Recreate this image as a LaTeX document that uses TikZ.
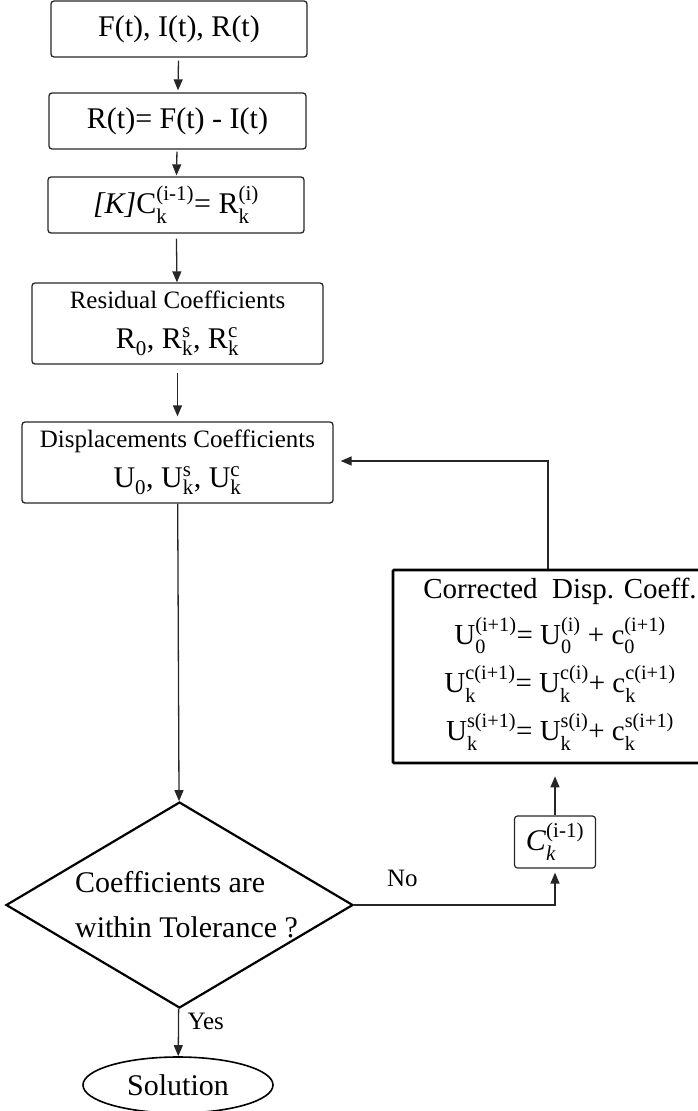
\documentclass[tikz,border=0pt]{standalone}
\usepackage{amsmath}
\usepackage{fontspec}
\setmainfont{Liberation Serif}
\usetikzlibrary{shapes,arrows.meta,calc}

% base with upright super- and subscript
\newcommand{\hsym}[3]{\ensuremath{\text{#1}^{\text{#2}}_{\text{#3}}}}

\begin{document}
\begin{tikzpicture}[x=1pt,y=-1pt,>={Triangle[length=11pt,width=9pt]}]
  \tikzstyle{block}=[draw=black!85,line width=1.3pt,rounded corners=3pt,inner sep=0pt,align=center,font=\fontsize{30}{40}\selectfont]
  \tikzstyle{decision}=[diamond,draw,line width=2.2pt,inner sep=0pt,minimum width=347,minimum height=206]
  \tikzstyle{line}=[draw=black!85,line width=1.3pt]
  \tikzstyle{small}=[font=\fontsize{25}{30}\selectfont]
  \useasboundingbox (0,0) rectangle (697,1111);

  \node[block,minimum width=256,minimum height=56] (load) at (179,29) {F(t), I(t), R(t)};
  \node[block,minimum width=257,minimum height=56] (resid) at (177.5,121) {R(t)= F(t) - I(t)};
  \node[block,minimum width=256,minimum height=56] (solve) at (176,205) {\textit{[K]}\hsym{C}{(i-1)}{k}= \hsym{R}{(i)}{k}};
  \node[block,minimum width=291,minimum height=81] (rcoef) at (177.5,323.5)
    {{\fontsize{25}{30}\selectfont Residual Coefficients}\\ \hsym{R}{}{0}, \hsym{R}{s}{k}, \hsym{R}{c}{k}};
  \node[block,minimum width=311,minimum height=81] (disp) at (177.5,462.5)
    {{\fontsize{25}{30}\selectfont Displacements Coefficients}\\ \hsym{U}{}{0}, \hsym{U}{s}{k}, \hsym{U}{c}{k}};
  \node[decision] (test) at (179.5,905) {};
  \node[align=left,inner sep=0pt,font=\fontsize{30}{45}\selectfont] (testtext) at (186.5,905) {Coefficients are\\within Tolerance ?};
  \node[ellipse,draw,line width=1.6pt,inner sep=0pt,minimum width=190,minimum height=56,font=\fontsize{30}{36}\selectfont] (sol) at (178,1085) {Solution};
  \node[block,line width=1.2pt,minimum width=81,minimum height=52] (corr) at (555,842) {\hsym{\textit{C}}{(i-1)}{\textit{k}}};
  \node[block,rounded corners=1pt,draw=black,line width=2.7pt,minimum width=334,minimum height=193,font=\fontsize{29}{43}\selectfont] (fix) at (560,666.5)
    {Corrected~~Disp. Coeff.\\[3pt]
     \hsym{U}{(i+1)}{0}= \hsym{U}{(i)}{0} + \hsym{c}{(i+1)}{0}\\[5pt]
     \hsym{U}{c(i+1)}{k}= \hsym{U}{c(i)}{k}+ \hsym{c}{c(i+1)}{k}\\[5pt]
     \hsym{U}{s(i+1)}{k}= \hsym{U}{s(i)}{k}+ \hsym{c}{s(i+1)}{k}\rule[-14pt]{0pt}{14pt}};

  % main chain
  \draw[line,->,shorten <=3pt,shorten >=2pt] (load) -- (resid);
  \draw[line,->,shorten <=2pt,shorten >=1pt] (resid) -- (solve);
  \draw[line,->,shorten <=5pt] (solve) -- (rcoef);
  \draw[line,->,shorten <=8pt,shorten >=5pt] (rcoef) -- (disp);
  \draw[line,->] (disp) -- (test);
  \draw[line,->] (test) -- node[pos=0.28,right=5pt,small] {Yes} (sol);

  % correction loop
  \coordinate (back) at (548,461);
  \draw[line,->,shorten >=4pt] (test.east) -| node[pos=0.12,above=14pt,small] {No} (corr);
  \draw[line,->,shorten >=12pt] (corr) -- (corr |- fix.south);
  \draw[line,->,shorten >=7pt] (fix.north -| back) -- (back) -- (back -| disp.east);
\end{tikzpicture}
\end{document}
